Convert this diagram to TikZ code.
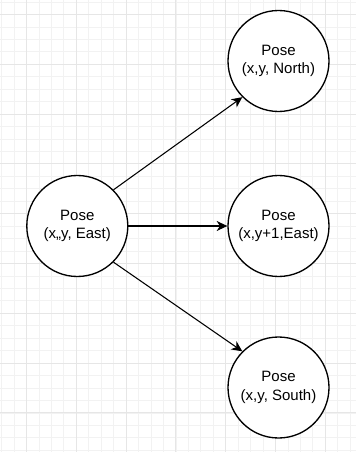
\documentclass[tikz,border=0pt]{standalone}
\usepackage{fontspec}
\setmainfont{Liberation Sans}
\usetikzlibrary{arrows.meta}
\definecolor{gridminor}{HTML}{F2F2F2}
\definecolor{gridmajor}{HTML}{E6E6E6}
\tikzset{
  pose/.style={circle, draw=black, line width=1pt, minimum size=75.75pt, inner sep=0pt, fill=white,
    align=center, font=\fontsize{11.25}{13.75}\selectfont},
  conn/.style={line width=0.8pt, -{Stealth[length=8pt,width=7.5pt,inset=2.5pt]}},
}
\begin{document}
\begin{tikzpicture}[x=0.75pt,y=-0.75pt]
\useasboundingbox (0,0) rectangle (356,452);
\fill[white] (0,0) rectangle (356,452);
% grid
\begin{scope}
\clip (0,0) rectangle (356,452);
\foreach \i in {-2,...,27} {
  \pgfmathsetmacro{\xx}{26.5+\i*12.45}
  \draw[gridminor, line width=0.6pt] (\xx,0) -- (\xx,452);
}
\foreach \j in {-1,...,36} {
  \pgfmathsetmacro{\yy}{14.5+\j*12.45}
  \draw[gridminor, line width=0.6pt] (0,\yy) -- (356,\yy);
}
\foreach \i in {0,...,7} {
  \pgfmathsetmacro{\xx}{26.5+\i*49.8}
  \draw[gridmajor, line width=0.75pt] (\xx,0) -- (\xx,452);
}
\foreach \j in {0,...,9} {
  \pgfmathsetmacro{\yy}{14.5+\j*49.8}
  \draw[gridmajor, line width=0.75pt] (0,\yy) -- (356,\yy);
}
\end{scope}
% nodes
\node[pose] (l) at (77.3,226) {Pose\\(x,,y, East)};
\node[pose] (t) at (278.5,61) {Pose\\(x,y, North)};
\node[pose] (m) at (278.5,226) {Pose\\(x,y+1,East)};
\node[pose] (b) at (278.5,387.5) {Pose\\(x,y, South)};
% connectors
\draw[conn] (l.45) -- (t.225);
\draw[conn] (l.east) -- (m.west);
\draw[conn] (l.-45) -- (b.135);
\end{tikzpicture}
\end{document}
